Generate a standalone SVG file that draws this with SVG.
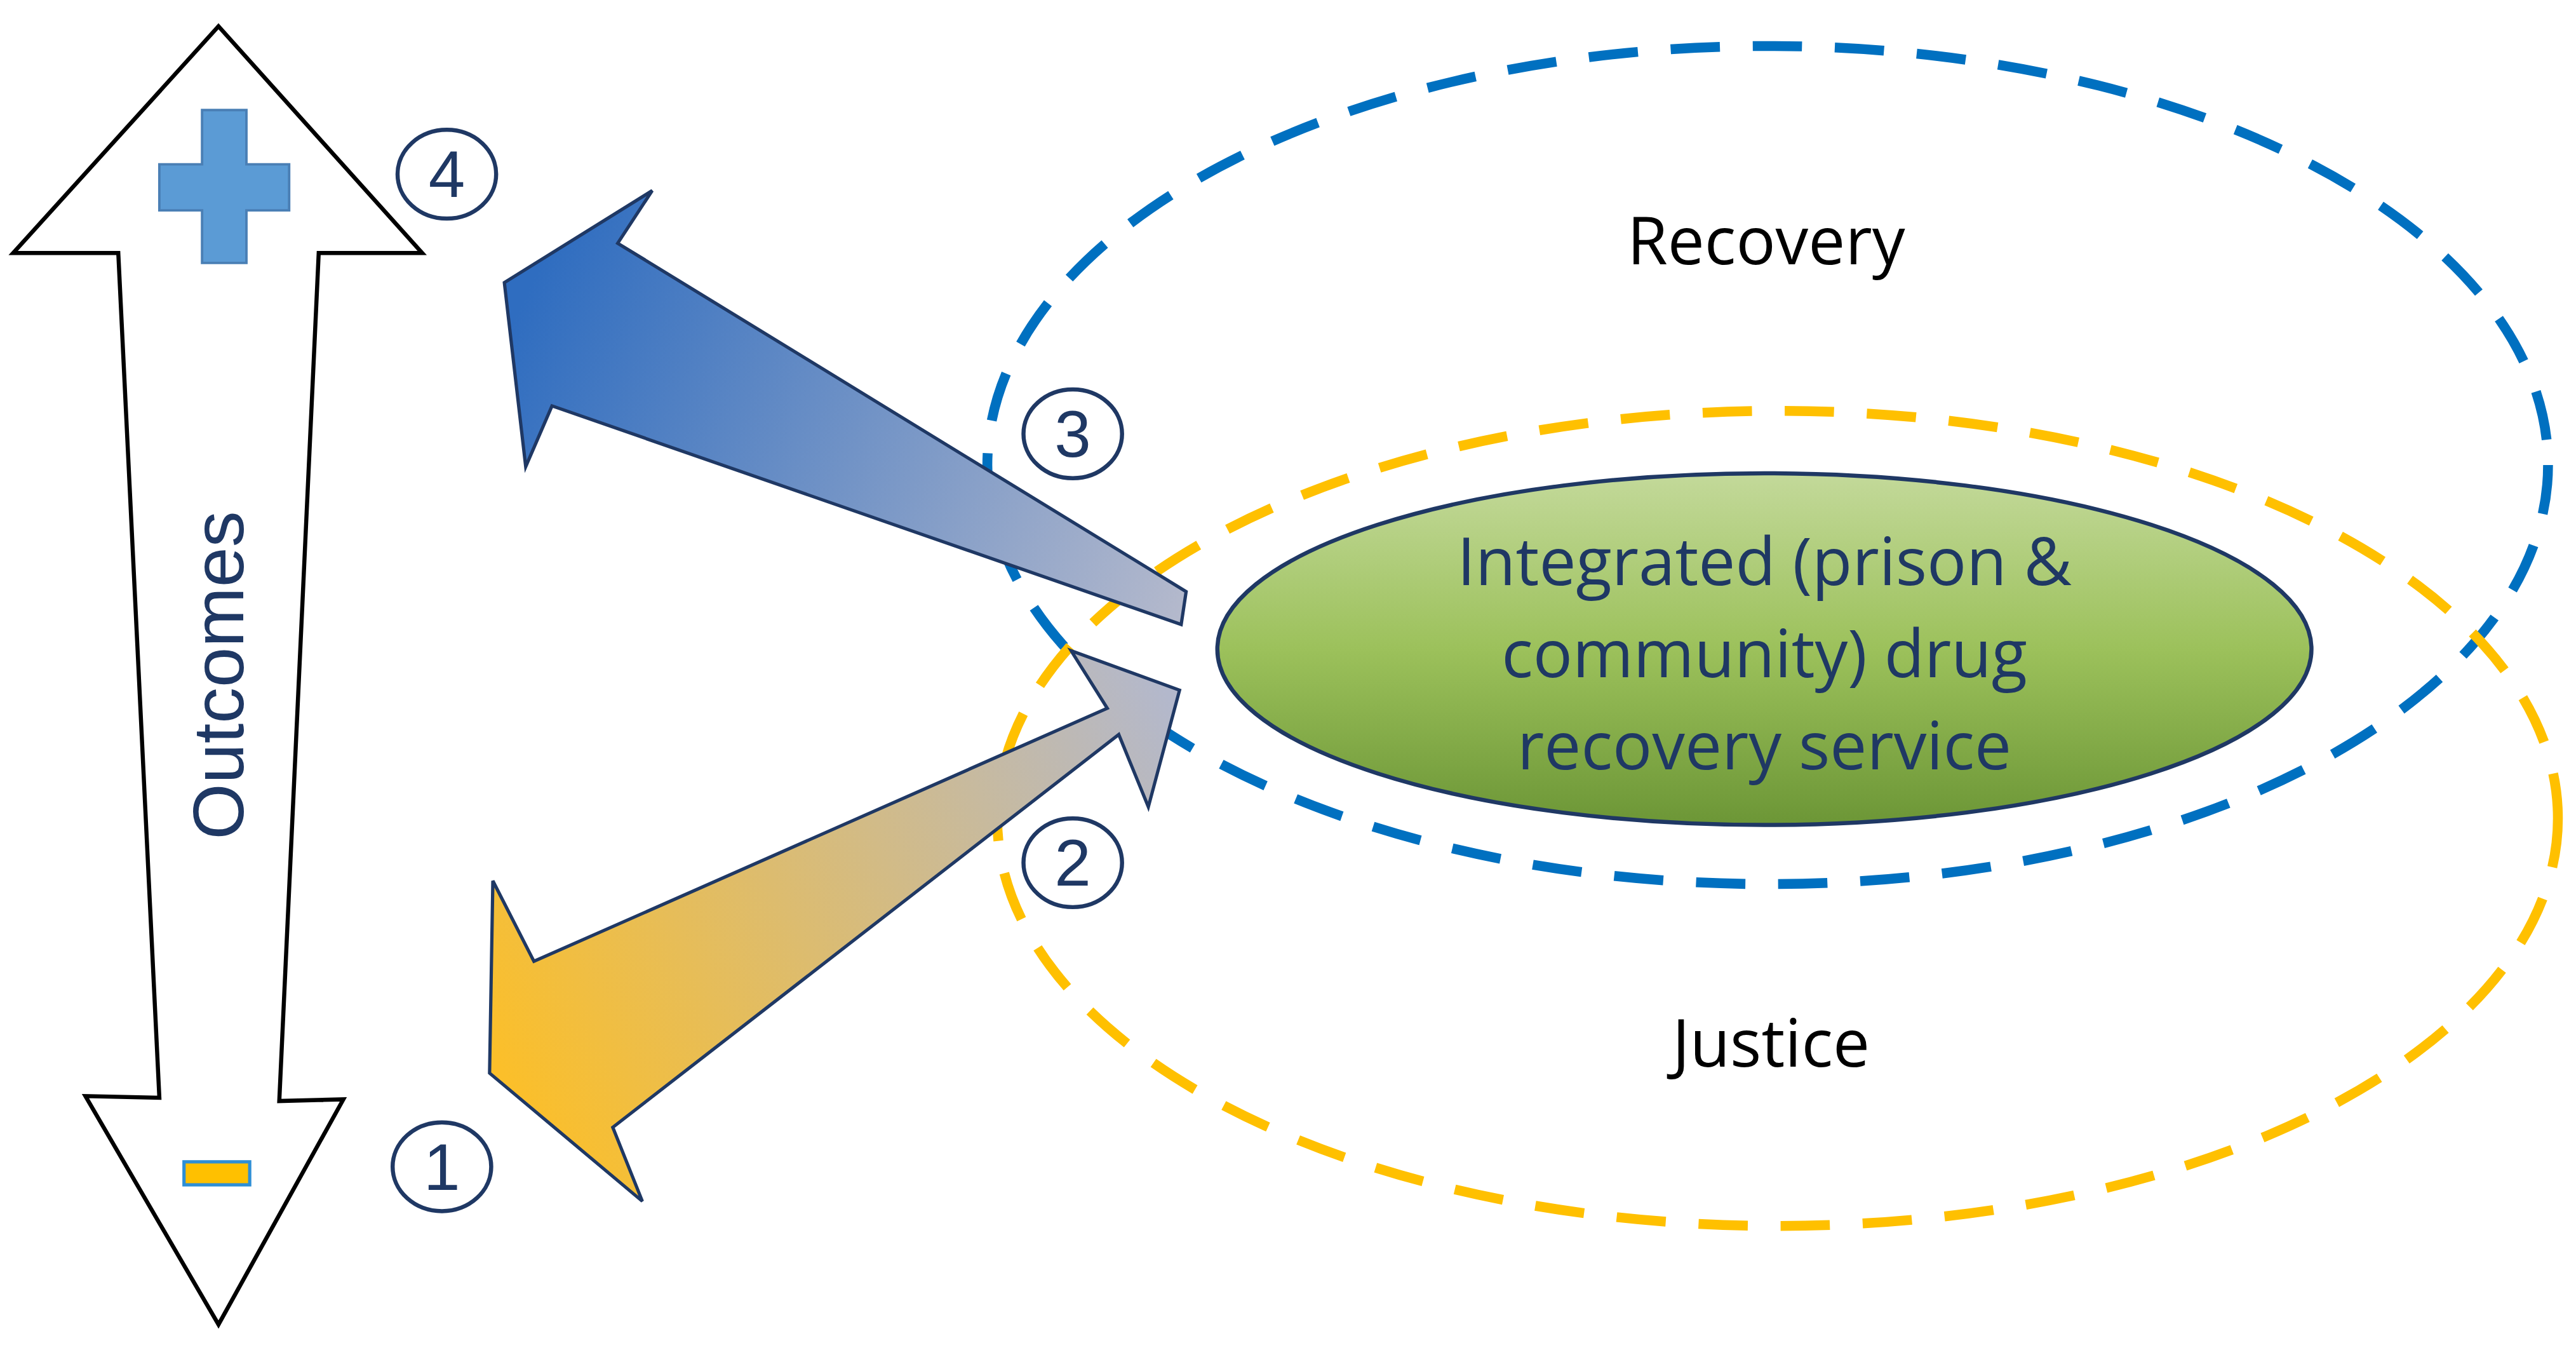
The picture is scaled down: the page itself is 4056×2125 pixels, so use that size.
<svg xmlns="http://www.w3.org/2000/svg" width="4056" height="2125" viewBox="0 0 4056 2125">
<defs>
<linearGradient id="gBlue" gradientUnits="userSpaceOnUse" x1="320" y1="180" x2="720" y2="370"><stop offset="0" stop-color="#2f6dc0"/><stop offset="1" stop-color="#b4b9cc"/></linearGradient>
<linearGradient id="gOr" gradientUnits="userSpaceOnUse" x1="300" y1="640" x2="715" y2="430"><stop offset="0" stop-color="#fbbf2a"/><stop offset="1" stop-color="#b3b8cc"/></linearGradient>
<linearGradient id="gGreen" x1="0" y1="0" x2="0" y2="1"><stop offset="0" stop-color="#c3d99a"/><stop offset="0.5" stop-color="#9cc15b"/><stop offset="1" stop-color="#6c9636"/></linearGradient>
<style>
.num{font-family:"Liberation Sans",Arial,sans-serif;font-size:40px;fill:#1f3864;text-anchor:middle}
.nc{fill:#fff;stroke:#1f3864;stroke-width:2.5}
.lbl{font-family:"Open Sans","Liberation Sans",sans-serif;font-size:40px;fill:#000;text-anchor:middle}
.in{font-family:"Open Sans","Liberation Sans",sans-serif;font-size:40px;fill:#1f3864;text-anchor:middle}
.arr{stroke:#1f3864;stroke-width:2;stroke-linejoin:miter}
</style>
</defs>
<rect width="4056" height="2125" fill="#fff"/>
<g transform="scale(2.5867)">
<g id="outcomes">
<polygon points="133,16 257,154 194,154 170,670 209,669 133,806 52,667 97,668 72,154 8,154" fill="#fff" stroke="#000" stroke-width="2.5"/>
<path d="M123,67 H150 V100 H176 V128 H150 V160 H123 V128 H97 V100 H123 Z" fill="#5b9bd5" stroke="#4a7fb5" stroke-width="1.5"/>
<rect x="112" y="707" width="40" height="14" fill="#ffc000" stroke="#2e8fd6" stroke-width="2"/>
<text transform="translate(148,411) rotate(-90)" font-family="'Liberation Sans',Arial,sans-serif" font-size="44" fill="#1f3864" text-anchor="middle" textLength="200" lengthAdjust="spacingAndGlyphs">Outcomes</text>
</g>
<g id="recovery">
<ellipse cx="1076" cy="283" rx="475" ry="255" fill="none" stroke="#0070c0" stroke-width="6" stroke-dasharray="30,20"/>
<text class="lbl" x="1075" y="161">Recovery</text>
</g>
<g id="justice">
<ellipse cx="1082" cy="498" rx="475" ry="248" fill="none" stroke="#ffc000" stroke-width="6" stroke-dasharray="30,20"/>
<text class="lbl" x="1078" y="649">Justice</text>
</g>
<g id="connectors">
<polygon class="arr" points="722,360 376,148 397,116 307,172 320,284 336,247 719,380" fill="url(#gBlue)"/>
<polygon class="arr" points="718,420 652,396 674,431 325,585 300,536 298,653 391,731 373,686 681,447 699,491" fill="url(#gOr)"/>
</g>
<g id="service">
<ellipse cx="1074" cy="395" rx="333" ry="107" fill="url(#gGreen)" stroke="#1f3864" stroke-width="2.5"/>
<text class="in" x="1074" y="356">Integrated (prison &amp;</text>
<text class="in" x="1074" y="412">community) drug</text>
<text class="in" x="1074" y="468">recovery service</text>
</g>
<g id="n4"><ellipse class="nc" cx="272" cy="106" rx="30" ry="27"/><text class="num" x="272" y="120">4</text></g>
<g id="n3"><ellipse class="nc" cx="653" cy="264" rx="30" ry="27"/><text class="num" x="653" y="278">3</text></g>
<g id="n2"><ellipse class="nc" cx="653" cy="525" rx="30" ry="27"/><text class="num" x="653" y="539">2</text></g>
<g id="n1"><ellipse class="nc" cx="269" cy="710" rx="30" ry="27"/><text class="num" x="269" y="724">1</text></g>
</g>
</svg>
